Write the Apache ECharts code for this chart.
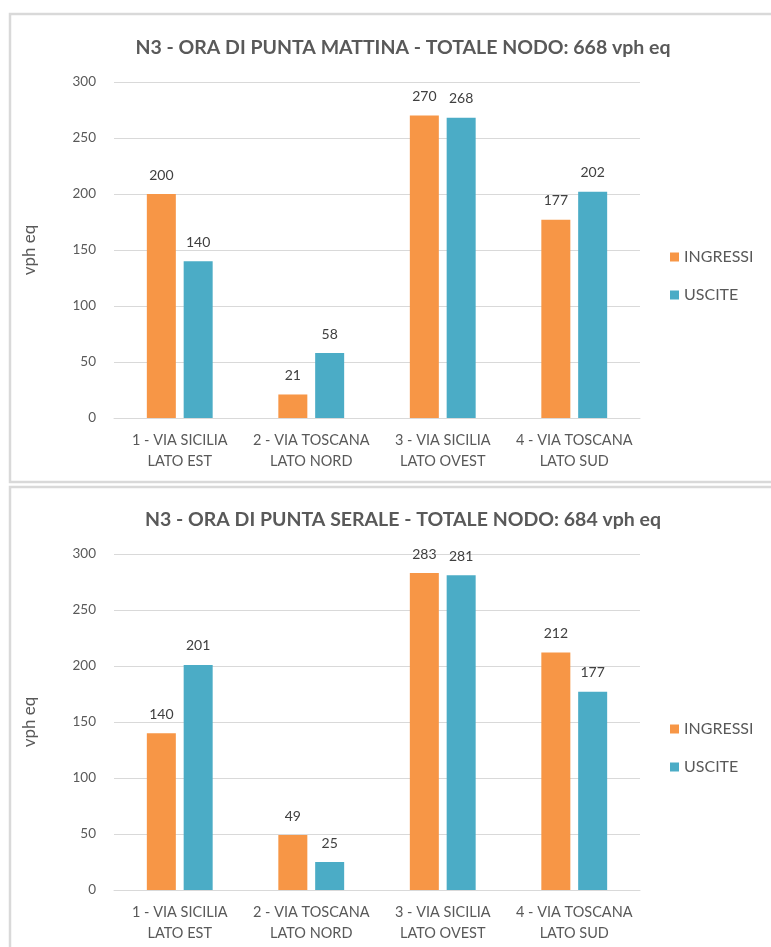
<!DOCTYPE html>
<html>
<head>
<meta charset="utf-8">
<script src="https://cdn.jsdelivr.net/npm/echarts@6/dist/echarts.min.js"></script>
<style>
  html, body { margin: 0; padding: 0; background: #fff; }
  #chart { width: 771px; height: 947px; }
</style>
</head>
<body>
<div id="chart"></div>
<script>
// categorie (nodi di accesso)
const categories = [
  '1 - VIA SICILIA\nLATO EST',
  '2 - VIA TOSCANA\nLATO NORD',
  '3 - VIA SICILIA\nLATO OVEST',
  '4 - VIA TOSCANA\nLATO SUD'
];
const seriesNames = ['INGRESSI', 'USCITE'];
const titles = [
  'N3 - ORA DI PUNTA MATTINA - TOTALE NODO: 668 vph eq',
  'N3 - ORA DI PUNTA SERALE - TOTALE NODO: 684 vph eq'
];
// mattina
const ingressiMattina = [200, 21, 270, 177];
const usciteMattina = [140, 58, 268, 202];
// sera
const ingressiSera = [140, 49, 283, 212];
const usciteSera = [201, 25, 281, 177];

const FONT = 'Lato, "Open Sans", sans-serif';
const grey = '#595959';
const colors = ['#F79646', '#4BACC6'];
const gridTops = [82, 554];

const chart = echarts.init(document.getElementById('chart'));

function xAxisFor(i) {
  return {
    type: 'category',
    gridIndex: i,
    data: categories,
    axisTick: { show: false },
    axisLine: { lineStyle: { color: '#d9d9d9', width: 1 } },
    axisLabel: { interval: 0, color: grey, fontSize: 14.5, fontFamily: FONT, margin: 12, lineHeight: 21 }
  };
}
function yAxisFor(i) {
  return {
    type: 'value',
    gridIndex: i,
    min: 0, max: 300, interval: 50,
    name: 'vph eq',
    nameLocation: 'middle',
    nameGap: 76,
    nameTextStyle: { color: grey, fontSize: 17, fontFamily: FONT },
    axisLine: { show: false },
    axisTick: { show: false },
    axisLabel: { color: grey, fontSize: 13.5, fontFamily: FONT, margin: 18 },
    splitLine: { lineStyle: { color: '#d9d9d9', width: 1 } }
  };
}
function barSeries(name, data, i, color) {
  return {
    name: name,
    type: 'bar',
    xAxisIndex: i,
    yAxisIndex: i,
    data: data,
    barWidth: 29,
    barGap: '27%',
    itemStyle: { color: color },
    label: { show: true, position: 'top', distance: 12, color: '#404040', fontSize: 14, fontFamily: FONT }
  };
}

chart.setOption({
  animation: false,
  color: colors,
  title: titles.map((t, i) => ({
    text: t,
    left: 398,
    textAlign: 'center',
    top: gridTops[i] - 49,
    textStyle: { color: grey, fontSize: 19.5, fontWeight: 'bold', fontFamily: FONT }
  })),
  legend: [0, 1].map(i => ({
    data: seriesNames,
    orient: 'vertical',
    left: 665,
    top: gridTops[i] + 162,
    itemWidth: 9,
    itemHeight: 9,
    itemGap: 22,
    icon: 'rect',
    textStyle: { color: grey, fontSize: 16, fontFamily: FONT }
  })),
  grid: gridTops.map(t => ({ left: 114, right: 131, top: t, height: 336 })),
  xAxis: [xAxisFor(0), xAxisFor(1)],
  yAxis: [yAxisFor(0), yAxisFor(1)],
  series: [
    barSeries('INGRESSI', ingressiMattina, 0, colors[0]),
    barSeries('USCITE', usciteMattina, 0, colors[1]),
    barSeries('INGRESSI', ingressiSera, 1, colors[0]),
    barSeries('USCITE', usciteSera, 1, colors[1])
  ],
  graphic: [
    // cornici dei due pannelli
    { type: 'rect', shape: { x: 10, y: 14, width: 780, height: 468 }, style: { fill: 'none', stroke: '#d9d9d9', lineWidth: 2.5 } },
    { type: 'rect', shape: { x: 10, y: 487, width: 780, height: 480 }, style: { fill: 'none', stroke: '#d9d9d9', lineWidth: 2.5 } }
  ]
});
</script>
</body>
</html>
